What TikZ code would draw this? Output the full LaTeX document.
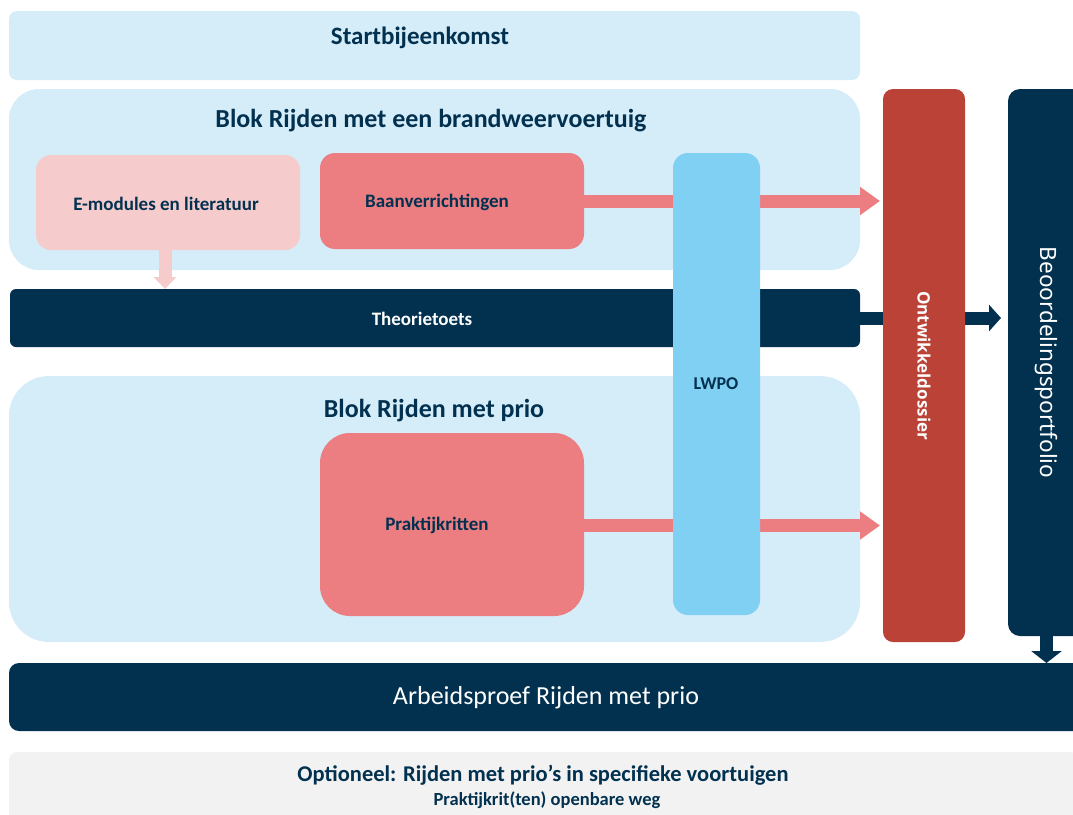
\documentclass[tikz,border=0pt]{standalone}
\usepackage{fontspec}
\setmainfont{Carlito}
\newfontfamily\osfont{Open Sans}
\newfontfamily\nsfont{Noto Sans}
\usetikzlibrary{arrows.meta}
\definecolor{lblue}{HTML}{D5ECF9}
\definecolor{epink}{HTML}{F6CBCB}
\definecolor{pink}{HTML}{EC7D80}
\definecolor{lwpo}{HTML}{80D0F4}
\definecolor{ored}{HTML}{BA4236}
\definecolor{navy}{HTML}{023150}
\definecolor{lgray}{HTML}{F2F2F2}
\tikzset{
  box/.style={anchor=north west, inner sep=0pt, outer sep=0pt},
  ttl/.style={font=\bfseries\fontsize{26}{30}\selectfont, text=navy},
  lbl/.style={font=\bfseries\fontsize{19}{22}\selectfont, text=navy},
  blockarrow/.style={line width=13pt},
}
\begin{document}
\begin{tikzpicture}[x=1pt,y=-1pt]
\useasboundingbox (0,0) rectangle (1073,814);
% backgrounds
\node[box, fill=lblue, rounded corners=8pt, minimum width=851pt, minimum height=69pt] (start) at (9,11) {};
\node[ttl, font=\bfseries\fontsize{25}{30}\selectfont] (startt) at (420,38) {Startbijeenkomst};
\node[box, fill=lblue, rounded corners=30pt, minimum width=851pt, minimum height=181pt] (blok1) at (9,89) {};
\node[ttl] (blok1t) at (431,121) {Blok Rijden met een brandweervoertuig};
\node[box, fill=lblue, rounded corners=40pt, minimum width=851pt, minimum height=266pt] (blok2) at (9,376) {};
\node[ttl] (blok2t) at (434,411) {Blok Rijden met prio};
% inner boxes
\node[box, fill=epink, rounded corners=15pt, minimum width=264pt, minimum height=95pt] (emod) at (36,155) {};
\node[lbl] (emodt) at (166,204) {E-modules en literatuur};
\node[box, fill=pink, rounded corners=15pt, minimum width=264pt, minimum height=96pt] (baan) at (320,153) {};
\node[lbl] (baant) at (437,202) {Baanverrichtingen};
\node[box, fill=pink, rounded corners=30pt, minimum width=264pt, minimum height=183pt] (prak) at (320,433) {};
\node[lbl] (prakt) at (437,525) {Praktijkritten};
\node[box, fill=navy, rounded corners=6pt, minimum width=850pt, minimum height=58pt] (theo) at (10,289) {};
\node[font=\bfseries\fontsize{19}{22}\selectfont, text=white] (theot) at (422,319) {Theorietoets};
% arrows behind LWPO
\draw[blockarrow, draw=epink, -{Triangle[length=12pt,width=22pt]}] ([xshift=-3pt]emod.south) -- ([xshift=-3pt]emod.south |- theo.north);
\draw[blockarrow, draw=pink, -{Triangle[length=20pt,width=27pt]}] (baan.east) -- ([xshift=-3pt]baan.east -| 883,0);
\draw[blockarrow, draw=pink, -{Triangle[length=20pt,width=27pt]}] ([yshift=-1pt]prak.east) -- ([yshift=-1pt, xshift=-3pt]prak.east -| 883,0);
\node[box, fill=lwpo, rounded corners=15pt, minimum width=87pt, minimum height=462pt] (lwpo) at (673,153) {};
\node[lbl, font=\bfseries\fontsize{18}{22}\selectfont] (lwpot) at (716,384) {LWPO};
% theorie arrow behind ontwikkeldossier
\draw[blockarrow, draw=navy, -{Triangle[length=12pt,width=26pt]}] (theo.east) -- (theo.east -| 1001,0);
\node[fill=ored, rounded corners=10pt, inner sep=0pt, minimum width=553pt, minimum height=82pt, rotate=-90, text=white, font=\osfont\bfseries\fontsize{17}{20}\selectfont] (ontw) at (924,365.5) {Ontwikkeldossier};
\node[fill=navy, rounded corners=12pt, inner sep=0pt, minimum width=547pt, minimum height=77pt, rotate=-90, text=white, font=\nsfont\fontsize{22.5}{26}\selectfont] (beoord) at (1046.5,362.5) {Beoordelingsportfolio};
\node[box, fill=navy, rounded corners=10pt, minimum width=1076pt, minimum height=68pt] (arb) at (9,663) {};
\node[font=\fontsize{26}{30}\selectfont, text=white] (arbt) at (546,698) {Arbeidsproef Rijden met prio};
\draw[blockarrow, draw=navy, -{Triangle[length=12pt,width=30pt]}] (beoord.east) -- (beoord.east |- arb.north);
\node[box, fill=lgray, rounded corners=8pt, minimum width=1070pt, minimum height=70pt] (opt) at (9,752) {};
\node[font=\bfseries\fontsize{22.5}{26}\selectfont, text=navy] (optt) at (543,775) {Optioneel: Rijden met prio’s in specifieke voortuigen};
\node[font=\bfseries\fontsize{18.5}{22}\selectfont, text=navy] (optt2) at (547,800) {Praktijkrit(ten) openbare weg};
\end{tikzpicture}
\end{document}
